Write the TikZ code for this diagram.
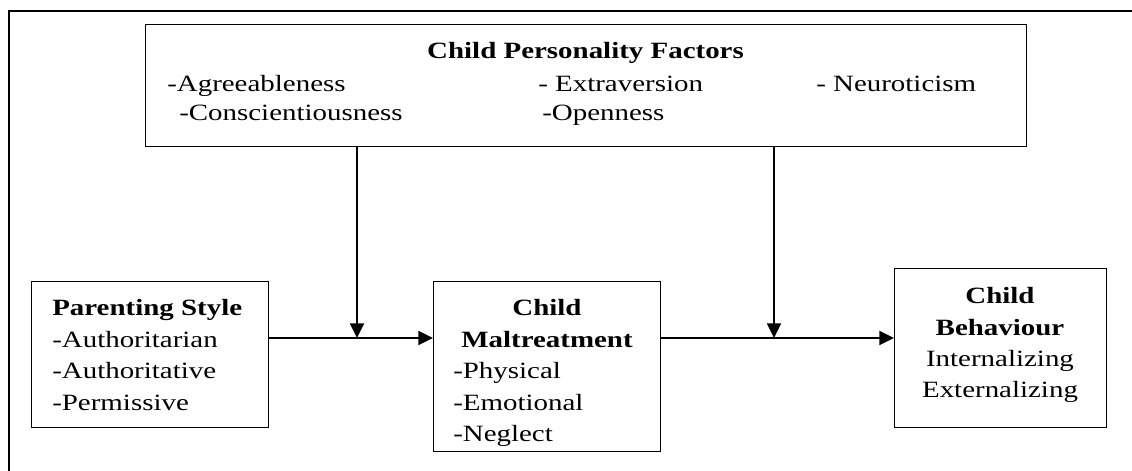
\documentclass[tikz,border=0pt]{standalone}
\usepackage{fontspec}
\usepackage{graphicx}
\setmainfont{Liberation Serif}
\usetikzlibrary{arrows.meta}
\newcommand\wx[1]{\scalebox{1.24}[1]{#1}}
\begin{document}
\begin{tikzpicture}[x=0.75pt,y=-0.75pt,
  box/.style={draw=black, line width=1.1pt, rectangle, inner sep=0pt, anchor=north west},
  txt/.style={inner sep=0pt, font=\fontsize{17.5pt}{20pt}\selectfont},
  ttl/.style={txt, font=\fontsize{17.5pt}{20pt}\selectfont\bfseries},
  arr/.style={line width=1.5pt, -{Triangle[length=11pt,width=10.5pt]}},
  frame/.style={line width=1.6pt}]
\useasboundingbox (0,0) rectangle (1132,471);
% outer frame (partial)
\coordinate (fbl) at (9,471);
\coordinate (fc) at (9,11);
\coordinate (ftr) at (1132,11);
\draw[frame] (fbl) -- (fc) -- (ftr);
% boxes
\node[box, minimum width=660.75pt, minimum height=91.5pt] (cp) at (145,24) {};
\node[box, minimum width=177.75pt, minimum height=109.5pt] (ps) at (31,281) {};
\node[box, minimum width=170.25pt, minimum height=127.5pt] (cm) at (433,281) {};
\node[box, minimum width=159pt, minimum height=119.25pt] (cb) at (894,268) {};
% top box texts
\node[ttl, anchor=base] (cpt) at (585.5,58) {\wx{Child Personality Factors}};
\node[txt, anchor=base west] (agr) at (167,91) {\wx{-Agreeableness}};
\node[txt, anchor=base west] (con) at (179,120) {\wx{-Conscientiousness}};
\node[txt, anchor=base west] (ext) at (538,91) {\wx{- Extraversion}};
\node[txt, anchor=base west] (opn) at (542,120) {\wx{-Openness}};
\node[txt, anchor=base west] (neu) at (816,91) {\wx{- Neuroticism}};
% parenting
\node[ttl, anchor=base west] (pst) at (52,315) {\wx{Parenting Style}};
\node[txt, anchor=base west] (p1) at (52,347) {\wx{-Authoritarian}};
\node[txt, anchor=base west] (p2) at (52,378) {\wx{-Authoritative}};
\node[txt, anchor=base west] (p3) at (52,410) {\wx{-Permissive}};
% maltreatment
\node[ttl, anchor=base] (cmt1) at (547,315) {\wx{Child}};
\node[ttl, anchor=base] (cmt2) at (547,347) {\wx{Maltreatment}};
\node[txt, anchor=base west] (m1) at (453,378) {\wx{-Physical}};
\node[txt, anchor=base west] (m2) at (453,410) {\wx{-Emotional}};
\node[txt, anchor=base west] (m3) at (453,441) {\wx{-Neglect}};
% behaviour
\node[ttl, anchor=base] (cbt1) at (1000,303) {\wx{Child}};
\node[ttl, anchor=base] (cbt2) at (1000,335) {\wx{Behaviour}};
\node[txt, anchor=base] (b1) at (1000,366) {\wx{Internalizing}};
\node[txt, anchor=base] (b2) at (1000,397) {\wx{Externalizing}};
% connectors
\coordinate (j1) at (357,338);
\coordinate (j2) at (774,338);
\draw[arr] (ps.east |- j1) -- (cm.west |- j1);
\draw[arr] (cm.east |- j2) -- (cb.west |- j2);
\draw[arr] (cp.south -| j1) -- (j1);
\draw[arr] (cp.south -| j2) -- (j2);
\end{tikzpicture}
\end{document}
